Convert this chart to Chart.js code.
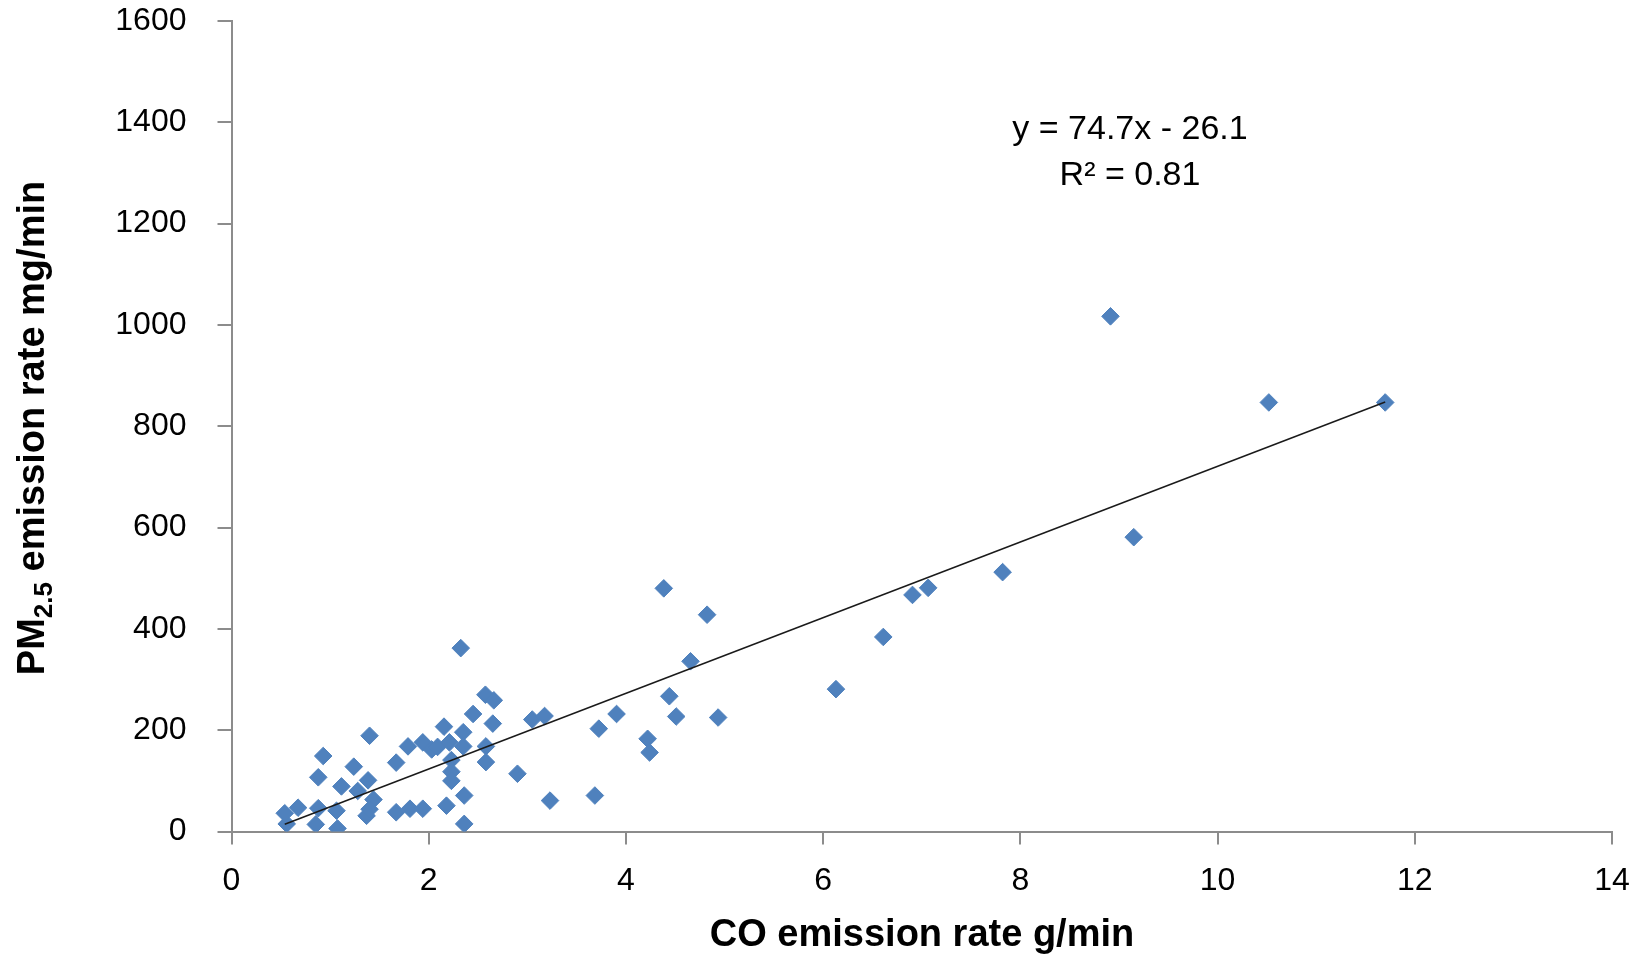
<!DOCTYPE html>
<html>
<head>
<meta charset="utf-8">
<script src="https://cdn.jsdelivr.net/npm/chart.js"></script>
<style>
  html, body { margin: 0; padding: 0; background: #fff; }
  #c { display: block; }
</style>
</head>
<body>
<canvas id="c" width="1643" height="960"></canvas>
<script>
// ---- data ----
const coX = [
  0.56, 0.54, 0.675, 0.855, 0.88, 0.88, 0.93, 1.065, 1.075, 1.115,
  1.24, 1.28, 1.385, 1.40, 1.37, 1.44, 1.40,
  1.67, 1.67, 1.79, 1.81, 1.94, 1.94, 2.03, 2.09, 2.155, 2.18,
  2.21, 2.23, 2.23, 2.23, 2.325, 2.35, 2.35, 2.36, 2.36, 2.45,
  2.575, 2.58, 2.58, 2.65, 2.66, 2.90, 3.05, 3.175, 3.23,
  3.685, 3.725, 3.905, 4.22, 4.24, 4.384, 4.44, 4.51, 4.655, 4.823, 4.935,
  6.13, 6.61, 6.906, 7.065, 7.82, 8.914, 9.15, 10.52, 11.70
];
const pmY = [
  15, 36, 47, 14, 46, 107, 149, 41, 6, 89,
  128, 80, 101, 189, 31, 63, 44,
  136, 38, 168, 45, 176, 45, 162, 167, 207, 51,
  176, 141, 118, 100, 362, 196, 168, 71, 15, 232,
  270, 168, 137, 213, 259, 114, 221, 228, 61,
  71, 203, 232, 183, 156, 480, 267, 227, 336, 428, 225,
  281, 384, 467, 481, 512, 1017, 581, 847, 847
];
const trendSlope = 74.7;
const trendIntercept = -26.1;
const equationLines = ['y = 74.7x - 26.1', 'R\u00B2 = 0.81'];
const xTitle = 'CO emission rate g/min';
const yTitleParts = ['PM', '2.5', ' emission rate mg/min'];
const xRange = [0, 14, 2];
const yRange = [0, 1600, 200];

// ---- build datasets ----
const points = coX.map((x, i) => ({ x: x, y: pmY[i] }));
const xMin = Math.min(...coX), xMax = Math.max(...coX);
const trend = [xMin, xMax].map(x => ({ x: x, y: trendSlope * x + trendIntercept }));

const FONT = "'Liberation Sans', Arial, sans-serif";

const textPlugin = {
  id: 'texts',
  afterDraw(chart) {
    const ctx = chart.ctx;
    ctx.save();
    // equation
    ctx.fillStyle = '#000';
    ctx.font = '34px ' + FONT;
    ctx.textAlign = 'center';
    ctx.textBaseline = 'middle';
    ctx.fillText(equationLines[0], 1130, 130);
    ctx.fillText(equationLines[1], 1130, 176);
    // x title
    ctx.font = 'bold 38px ' + FONT;
    ctx.fillText(xTitle, 922, 936);
    // y title with subscript
    const big = 'bold 38px ' + FONT;
    const small = 'bold 26px ' + FONT;
    ctx.font = big; const w1 = ctx.measureText(yTitleParts[0]).width;
    ctx.font = small; const w2 = ctx.measureText(yTitleParts[1]).width;
    ctx.font = big; const w3 = ctx.measureText(yTitleParts[2]).width;
    const total = w1 + w2 + w3;
    ctx.translate(31, 428);
    ctx.rotate(-Math.PI / 2);
    ctx.textAlign = 'left';
    ctx.textBaseline = 'alphabetic';
    let x0 = -total / 2;
    const base = 13;
    ctx.font = big; ctx.fillText(yTitleParts[0], x0, base); x0 += w1;
    ctx.font = small; ctx.fillText(yTitleParts[1], x0, base + 8); x0 += w2;
    ctx.font = big; ctx.fillText(yTitleParts[2], x0, base);
    ctx.restore();
  }
};

new Chart(document.getElementById('c'), {
  type: 'scatter',
  data: {
    datasets: [
      {
        label: 'trend',
        data: trend,
        showLine: true,
        borderColor: '#1a1a1a',
        borderWidth: 1.5,
        pointRadius: 0,
        pointHoverRadius: 0,
        fill: false,
        order: 0
      },
      {
        label: 'PM2.5 vs CO',
        data: points,
        pointStyle: 'rectRot',
        pointRadius: 8.8,
        pointBackgroundColor: '#4F81BD',
        pointBorderColor: '#4F81BD',
        pointBorderWidth: 1,
        order: 1
      }
    ]
  },
  options: {
    responsive: false,
    animation: false,
    events: [],
    layout: { padding: { top: 21, right: 31, left: 0, bottom: 0 } },
    plugins: { legend: { display: false }, tooltip: { enabled: false } },
    scales: {
      x: {
        type: 'linear',
        min: xRange[0], max: xRange[1],
        ticks: { stepSize: xRange[2], padding: 17, color: '#000', font: { family: FONT, size: 32 },
                 callback: v => String(v) },
        grid: { display: true, drawOnChartArea: false, drawTicks: true, tickLength: 13, color: '#8c8c8c', lineWidth: 2 },
        border: { display: true, color: '#8c8c8c', width: 2 },
        title: { display: false },
        afterFit(s) { s.height = 128.5; s.paddingLeft = 0; s.paddingRight = 0; }
      },
      y: {
        type: 'linear',
        min: yRange[0], max: yRange[1],
        ticks: { stepSize: yRange[2], padding: 31, color: '#000', font: { family: FONT, size: 32 },
                 callback: v => String(v) },
        grid: { display: true, drawOnChartArea: false, drawTicks: true, tickLength: 14, color: '#8c8c8c', lineWidth: 2 },
        border: { display: true, color: '#8c8c8c', width: 2 },
        title: { display: false },
        afterFit(s) { s.width = 231.5; s.paddingTop = 0; s.paddingBottom = 0; }
      }
    }
  },
  plugins: [textPlugin]
});
</script>
</body>
</html>
